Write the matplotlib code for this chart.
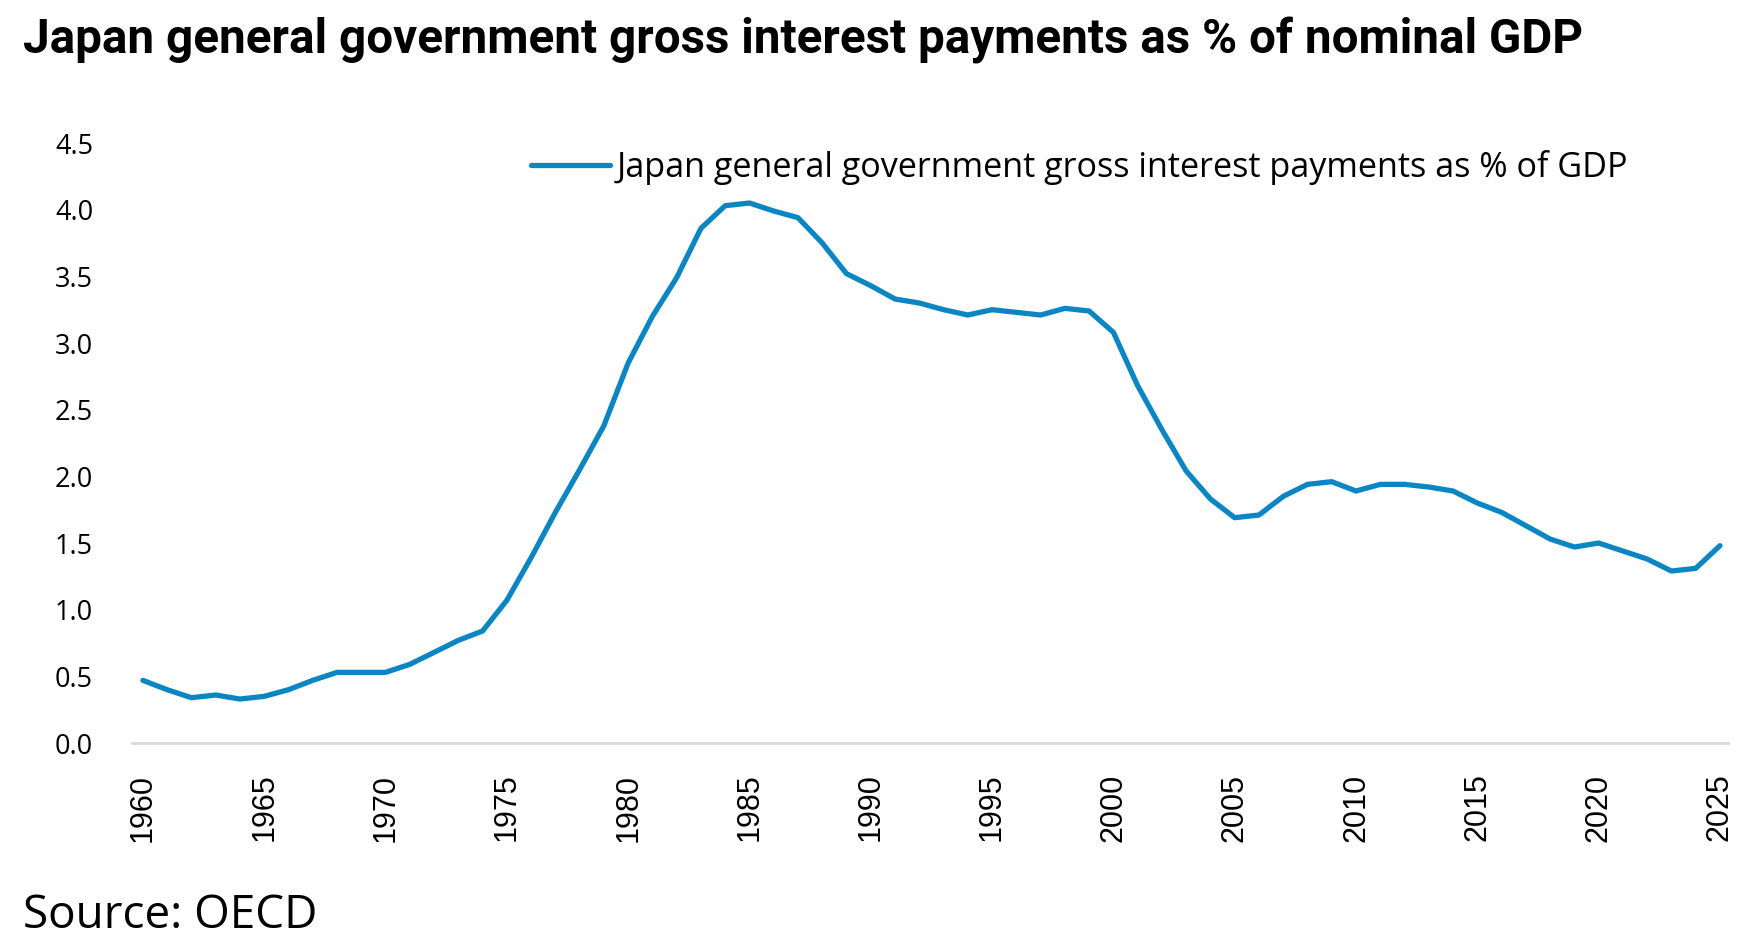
import matplotlib
matplotlib.use("Agg")
import matplotlib.pyplot as plt

# Japan general government gross interest payments as % of GDP
years = list(range(1960, 2026))
interest_pct_gdp = [
    0.47, 0.40, 0.34, 0.36, 0.33, 0.35, 0.40, 0.47, 0.53, 0.53,  # 1960-69
    0.53, 0.59, 0.68, 0.77, 0.84, 1.07, 1.39, 1.73, 2.05, 2.38,  # 1970-79
    2.85, 3.20, 3.49, 3.86, 4.03, 4.05, 3.99, 3.94, 3.75, 3.52,  # 1980-89
    3.43, 3.33, 3.30, 3.25, 3.21, 3.25, 3.23, 3.21, 3.26, 3.24,  # 1990-99
    3.08, 2.68, 2.35, 2.04, 1.83, 1.69, 1.71, 1.85, 1.94, 1.96,  # 2000-09
    1.89, 1.94, 1.94, 1.92, 1.89, 1.80, 1.73, 1.63, 1.53, 1.47,  # 2010-19
    1.50, 1.44, 1.38, 1.29, 1.31, 1.48,                          # 2020-25
]
year_ticks = list(range(1960, 2026, 5))
value_ticks = [0.0, 0.5, 1.0, 1.5, 2.0, 2.5, 3.0, 3.5, 4.0, 4.5]

TITLE = "Japan general government gross interest payments as % of nominal GDP"
SERIES_LABEL = "Japan general government gross interest payments as % of GDP"
SOURCE = "Source: OECD"
LINE_COLOR = "#0C86C3"

fig = plt.figure(figsize=(17.55, 9.39), dpi=100)
ax = fig.add_axes([0.0752, 0.2087, 0.9094, 0.639])

ax.plot(years, interest_pct_gdp, color=LINE_COLOR, linewidth=3.8,
        solid_joinstyle="round", solid_capstyle="round", label=SERIES_LABEL)

ax.set_xlim(1959.55, 2025.33)
ax.set_ylim(0, 4.5)
ax.set_xticks(year_ticks)
ax.set_xticklabels([str(y) for y in year_ticks], rotation=90,
                   fontfamily="Liberation Sans", fontsize=22)
ax.set_yticks(value_ticks)
ax.set_yticklabels([f"{v:.1f}" for v in value_ticks],
                   fontfamily="Open Sans", fontsize=19.5)
ax.tick_params(axis="x", length=0, pad=22)
ax.tick_params(axis="y", length=0, pad=28)

for side in ["top", "right", "left"]:
    ax.spines[side].set_visible(False)
ax.spines["bottom"].set_color("#d9d9d9")
ax.spines["bottom"].set_linewidth(2)

ax.legend(loc="center left", bbox_to_anchor=(0.25, 0.96), frameon=False,
          prop={"family": "Open Sans", "size": 24.6},
          borderpad=0, borderaxespad=0,
          handlelength=2.3, handletextpad=0.2)

fig.text(0.0131, 0.957, TITLE, fontfamily="Roboto", fontweight="bold",
         fontsize=34.3, va="center", ha="left")
fig.text(0.0131, 0.024, SOURCE, fontfamily="Open Sans", fontsize=33,
         va="center", ha="left")

fig.savefig("out.png", dpi=100, facecolor="white")
